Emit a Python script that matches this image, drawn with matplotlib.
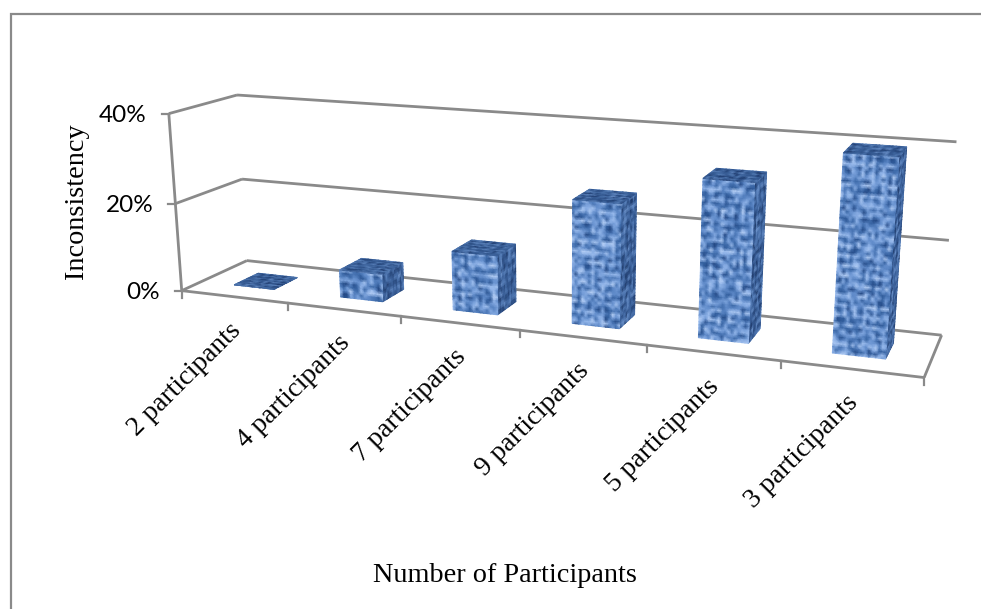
import matplotlib
matplotlib.use("Agg")
import matplotlib.pyplot as plt
from matplotlib.colors import LinearSegmentedColormap
import numpy as np

categories = ['2 participants', '4 participants', '7 participants',
              '9 participants', '5 participants', '3 participants']
inconsistency = [0, 6.2, 13, 26.5, 33, 40]
y_ticks = [0, 20, 40]
y_tick_labels = ['0%', '20%', '40%']

GREY = '#8a8a8a'
SERIF = 'Liberation Serif'
BAR_LEFT, BAR_RIGHT = 0.31, 0.69
BAR_FRONT, BAR_BACK = 0.30, 0.68

# (category position, depth, value) -> pixel pairs used to fit the camera
camera_world = [(0, 0, 0), (6, 0, 0), (0, 1, 0), (6, 1, 0),
                (0, 0, 40), (0, 1, 40), (6, 1, 40), (0, 0, 20), (0, 1, 20), (6, 1, 20),
                (1, 0, 0), (2, 0, 0), (3, 0, 0), (4, 0, 0), (5, 0, 0)]
camera_pixel = [(182, 291), (924, 378), (247, 261), (942, 335),
                (169, 114), (237, 95), (957, 142), (175, 203), (242, 179), (948, 240),
                (288, 303), (401, 316), (520, 330), (647, 345), (781, 361)]


def fit_camera(world, pixel):
    rows = []
    for (x, d, z), (u, v) in zip(world, pixel):
        rows.append([x, d, z, 1, 0, 0, 0, 0, -u * x, -u * d, -u * z, -u])
        rows.append([0, 0, 0, 0, x, d, z, 1, -v * x, -v * d, -v * z, -v])
    return np.linalg.svd(np.array(rows, dtype=float))[2][-1].reshape(3, 4)


CAMERA = fit_camera(camera_world, camera_pixel)


def project(x, d, z):
    x, d, z = np.broadcast_arrays(x, d, z)
    p = np.stack([x, d, z, np.ones_like(x, dtype=float)], axis=-1) @ CAMERA.T
    return p[..., 0] / p[..., 2], p[..., 1] / p[..., 2]


def weave(i, j, offset):
    # cloth lattice: mottled knots with lighter threads every third row and column
    mottle = np.sin(i * 12.9898 + j * 78.233 + offset) * 43758.5453
    mottle = mottle - np.floor(mottle)
    return 0.06 + 0.66 * mottle + 0.22 * (j % 3 == 0) + 0.14 * (i % 3 == 0)


cloth = LinearSegmentedColormap.from_list(
    'cloth', ['#1c3c76', '#33609f', '#618ccb', '#95b8ec', '#bcd4f8'])
cloth_side = LinearSegmentedColormap.from_list(
    'cloth_side', ['#18305c', '#2a4a7e', '#3e649e', '#5a82bc', '#7499d0'])
cloth_top = LinearSegmentedColormap.from_list(
    'cloth_top', ['#1a3364', '#2a4c82', '#3a6099', '#557db6', '#6a8fc7'])


def draw_face(ax, corner_a, corner_b, corner_c, cmap, offset, step_s=3.3, step_t=3.3):
    # corner_a -> corner_b is the s direction, corner_a -> corner_c the t direction
    a, b, c = [np.array(k, dtype=float) for k in (corner_a, corner_b, corner_c)]
    ax0, ay0 = project(*a)
    bx0, by0 = project(*b)
    cx0, cy0 = project(*c)
    ns = max(int(np.hypot(bx0 - ax0, by0 - ay0) / step_s) + 1, 2)
    nt = max(int(np.hypot(cx0 - ax0, cy0 - ay0) / step_t) + 1, 2)
    fs, ft = np.meshgrid(np.linspace(0, 1, ns), np.linspace(0, 1, nt))
    pts = a + fs[..., None] * (b - a) + ft[..., None] * (c - a)
    px, py = project(pts[..., 0], pts[..., 1], pts[..., 2])
    j, i = np.indices(fs.shape)
    ax.pcolormesh(px, py, weave(i, j, offset), cmap=cmap, vmin=0, vmax=1,
                  shading='gouraud', rasterized=True, zorder=3)


def draw_line(ax, start, end, lw=2.0):
    xs, ys = project([start[0], end[0]], [start[1], end[1]], [start[2], end[2]])
    ax.plot(xs, ys, color=GREY, lw=lw, solid_capstyle='butt', zorder=2)


fig = plt.figure(figsize=(9.81, 6.09), dpi=100, facecolor='white')
ax = fig.add_axes([0, 0, 1, 1])
ax.set_xlim(0, 981)
ax.set_ylim(609, 0)
ax.axis('off')

# outer chart border, open on the right and at the bottom
ax.plot([11, 11, 981], [609, 14, 14], color=GREY, lw=1.6, solid_joinstyle='miter', zorder=1)

# walls and floor
n = len(categories)
for tick in y_ticks:
    draw_line(ax, (0, 0, tick), (0, 1, tick))
    draw_line(ax, (0, 1, tick), (n, 1, tick))
draw_line(ax, (0, 0, 0), (0, 0, y_ticks[-1]))
draw_line(ax, (0, 0, 0), (n, 0, 0))
draw_line(ax, (n, 0, 0), (n, 1, 0))

# tick marks and labels
for tick, label in zip(y_ticks, y_tick_labels):
    tx, ty = project(0, 0, tick)
    ax.plot([tx - 7, tx], [ty, ty], color=GREY, lw=1.6, zorder=2)
    ax.text(tx - 22, ty, label, ha='right', va='center_baseline', fontsize=17.5,
            family='Lato', color='black')
for i in range(n + 1):
    tx, ty = project(i, 0, 0)
    ax.plot([tx, tx], [ty, ty + 7], color=GREY, lw=1.6, zorder=2)

# bars, back faces hidden, painted left to right
for i, (name, value) in enumerate(zip(categories, inconsistency)):
    x0, x1 = i + BAR_LEFT, i + BAR_RIGHT
    draw_face(ax, (x1, BAR_FRONT, value), (x1, BAR_BACK, value), (x1, BAR_FRONT, 0),
              cloth_side, 4.1 * i + 0.7, step_s=1.6)
    draw_face(ax, (x0, BAR_FRONT, value), (x1, BAR_FRONT, value), (x0, BAR_FRONT, 0),
              cloth, 3.7 * i)
    draw_face(ax, (x0, BAR_BACK, value), (x1, BAR_BACK, value), (x0, BAR_FRONT, value),
              cloth_top, 5.3 * i + 0.3, step_t=1.6)

    # category label ends under the middle of its slot
    lx, ly = project(i + 0.5, 0, 0)
    ax.text(lx - 6, ly + 21, name, rotation=45, rotation_mode='anchor', ha='right', va='top',
            fontsize=19.8, family=SERIF, color='black', zorder=4)

ax.text(77, 201, 'Inconsistency', rotation=90, ha='center', va='center',
        fontsize=20.3, family=SERIF, color='black')
ax.text(505, 576, 'Number of Participants', ha='center', va='center',
        fontsize=20.3, family=SERIF, color='black')

fig.savefig('out.png', dpi=100)
